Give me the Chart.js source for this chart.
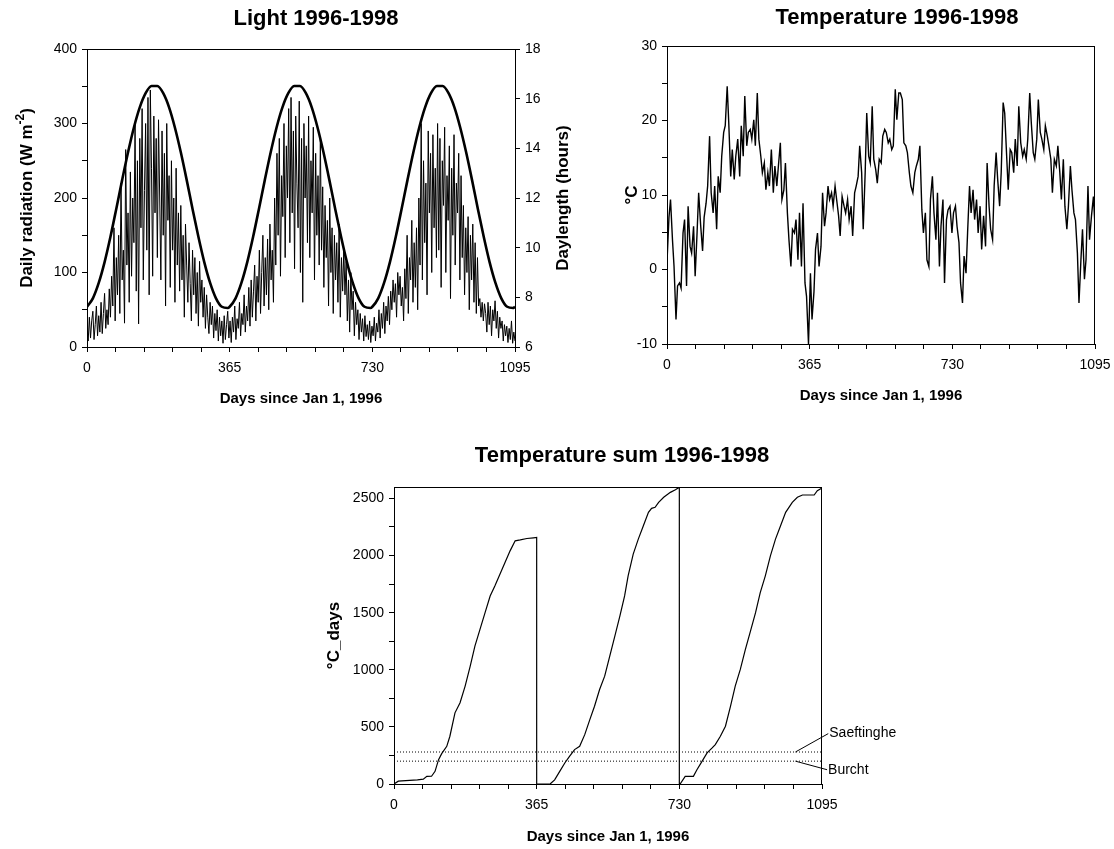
<!DOCTYPE html>
<html>
<head>
<meta charset="utf-8">
<title>Light and temperature 1996-1998</title>
<script src="https://cdn.jsdelivr.net/npm/chart.js@4.4.1/dist/chart.umd.min.js"></script>
<style>
  html, body { margin: 0; background: #fff; overflow: hidden; width: 1114px; height: 849px; }
  canvas { position: absolute; }
  #light { left: 0; top: 0; }
  #temp { left: 560px; top: 0; }
  #tsum { left: 280px; top: 420px; }
</style>
</head>
<body>
<canvas id="light" width="590" height="420"></canvas>
<canvas id="temp" width="560" height="420"></canvas>
<canvas id="tsum" width="680" height="429"></canvas>
<script>
// ---- axis ticks ----
const dayTicks = [0, 73, 146, 219, 292, 365, 438, 511, 584, 657, 730, 803, 876, 949, 1022, 1095];
const dayLabels = [0, 365, 730, 1095];
const radTicks = [0, 50, 100, 150, 200, 250, 300, 350, 400];
const radLabels = [0, 100, 200, 300, 400];
const hourTicks = [6, 8, 10, 12, 14, 16, 18];
const tempTicks = [-10, -5, 0, 5, 10, 15, 20, 25, 30];
const tempLabels = [-10, 0, 10, 20, 30];
const sumTicks = [0, 250, 500, 750, 1000, 1250, 1500, 1750, 2000, 2250, 2500];
const sumLabels = [0, 500, 1000, 1500, 2000, 2500];

// ---- daily radiation (W m-2), read every 3 days ----
const radDays = [
  0, 3, 6, 9, 12, 15, 18, 21, 24, 27, 30, 33, 36, 39, 42, 45, 48, 51, 54, 57,
  60, 63, 66, 69, 72, 75, 78, 81, 84, 87, 90, 93, 96, 99, 102, 105, 108, 111, 114, 117,
  120, 123, 126, 129, 132, 135, 138, 141, 144, 147, 150, 153, 156, 159, 162, 165, 168, 171, 174, 177,
  180, 183, 186, 189, 192, 195, 198, 201, 204, 207, 210, 213, 216, 219, 222, 225, 228, 231, 234, 237,
  240, 243, 246, 249, 252, 255, 258, 261, 264, 267, 270, 273, 276, 279, 282, 285, 288, 291, 294, 297,
  300, 303, 306, 309, 312, 315, 318, 321, 324, 327, 330, 333, 336, 339, 342, 345, 348, 351, 354, 357,
  360, 363, 366, 369, 372, 375, 378, 381, 384, 387, 390, 393, 396, 399, 402, 405, 408, 411, 414, 417,
  420, 423, 426, 429, 432, 435, 438, 441, 444, 447, 450, 453, 456, 459, 462, 465, 468, 471, 474, 477,
  480, 483, 486, 489, 492, 495, 498, 501, 504, 507, 510, 513, 516, 519, 522, 525, 528, 531, 534, 537,
  540, 543, 546, 549, 552, 555, 558, 561, 564, 567, 570, 573, 576, 579, 582, 585, 588, 591, 594, 597,
  600, 603, 606, 609, 612, 615, 618, 621, 624, 627, 630, 633, 636, 639, 642, 645, 648, 651, 654, 657,
  660, 663, 666, 669, 672, 675, 678, 681, 684, 687, 690, 693, 696, 699, 702, 705, 708, 711, 714, 717,
  720, 723, 726, 729, 732, 735, 738, 741, 744, 747, 750, 753, 756, 759, 762, 765, 768, 771, 774, 777,
  780, 783, 786, 789, 792, 795, 798, 801, 804, 807, 810, 813, 816, 819, 822, 825, 828, 831, 834, 837,
  840, 843, 846, 849, 852, 855, 858, 861, 864, 867, 870, 873, 876, 879, 882, 885, 888, 891, 894, 897,
  900, 903, 906, 909, 912, 915, 918, 921, 924, 927, 930, 933, 936, 939, 942, 945, 948, 951, 954, 957,
  960, 963, 966, 969, 972, 975, 978, 981, 984, 987, 990, 993, 996, 999, 1002, 1005, 1008, 1011, 1014, 1017,
  1020, 1023, 1026, 1029, 1032, 1035, 1038, 1041, 1044, 1047, 1050, 1053, 1056, 1059, 1062, 1065, 1068, 1071, 1074, 1077,
  1080, 1083, 1086, 1089, 1092, 1095
];
const radiation = [
  25, 8, 40, 12, 35, 48, 10, 30, 55, 15, 42, 20, 60, 18, 45, 72, 25, 50, 30, 78,
  40, 95, 55, 160, 35, 120, 70, 150, 45, 220, 90, 130, 32, 265, 110, 180, 60, 235, 95, 200,
  140, 300, 75, 250, 31, 280, 160, 320, 90, 210, 300, 130, 335, 70, 345, 240, 95, 310, 180, 280,
  120, 305, 200, 90, 290, 150, 260, 55, 300, 170, 230, 80, 250, 130, 200, 60, 240, 110, 180, 75,
  190, 90, 150, 40, 165, 110, 60, 140, 85, 35, 130, 70, 120, 45, 100, 28, 115, 60, 90, 40,
  80, 25, 70, 40, 18, 60, 30, 55, 12, 45, 22, 50, 8, 40, 15, 35, 5, 42, 10, 30,
  48, 12, 35, 6, 40, 20, 55, 10, 38, 25, 60, 15, 45, 30, 70, 20, 55, 35, 80, 28,
  90, 40, 75, 110, 35, 95, 60, 130, 45, 100, 150, 55, 120, 70, 145, 50, 165, 90, 130, 60,
  200, 110, 260, 150, 280, 95, 230, 175, 300, 120, 270, 200, 320, 140, 335, 180, 290, 105, 310, 220,
  160, 330, 100, 280, 60, 300, 200, 270, 140, 310, 120, 250, 180, 295, 90, 260, 150, 230, 110, 280,
  130, 215, 80, 190, 120, 170, 55, 200, 100, 160, 45, 150, 90, 140, 60, 165, 40, 120, 75, 130,
  70, 115, 35, 90, 20, 100, 50, 75, 15, 60, 30, 50, 10, 45, 20, 38, 8, 42, 14, 30,
  10, 35, 6, 28, 15, 40, 8, 32, 20, 50, 12, 45, 25, 60, 18, 55, 35, 68, 30, 75,
  50, 90, 60, 85, 40, 100, 70, 95, 55, 80, 35, 105, 65, 150, 45, 120, 90, 170, 60, 140,
  80, 160, 50, 200, 110, 300, 90, 250, 140, 220, 70, 290, 180, 260, 100, 285, 160, 240, 120, 300,
  130, 280, 80, 250, 190, 295, 100, 230, 170, 270, 65, 240, 150, 285, 110, 220, 180, 260, 90, 230,
  120, 190, 70, 160, 100, 175, 50, 150, 90, 165, 60, 140, 45, 120, 55, 65, 40, 60, 35, 58,
  45, 20, 60, 30, 55, 15, 50, 35, 62, 25, 48, 12, 40, 25, 35, 8, 30, 15, 28, 6,
  25, 10, 35, 5, 20, 8
];

// ---- daylength (hours) ----
const dayLenDays = [
  0, 15, 30, 45, 60, 75, 90, 105, 120, 135, 150, 165, 180, 195, 210, 225, 240, 255, 270, 285, 300, 315, 330, 345, 360,
  365, 380, 395, 410, 425, 440, 455, 470, 485, 500, 515, 530, 545, 560, 575, 590, 605, 620, 635, 650, 665, 680, 695, 710, 725,
  730, 745, 760, 775, 790, 805, 820, 835, 850, 865, 880, 895, 910, 925, 940, 955, 970, 985, 1000, 1015, 1030, 1045, 1060, 1075, 1090,
  1095
];
const dayLength = [
  7.62, 7.96, 8.58, 9.42, 10.44, 11.57, 12.73, 13.84, 14.84, 15.65, 16.22, 16.51, 16.51, 16.22, 15.65, 14.83, 13.84, 12.73, 11.56, 10.44, 9.42, 8.58, 7.96, 7.62, 7.57,
  7.62, 7.96, 8.58, 9.42, 10.44, 11.57, 12.73, 13.84, 14.84, 15.65, 16.22, 16.51, 16.51, 16.22, 15.65, 14.83, 13.84, 12.73, 11.56, 10.44, 9.42, 8.58, 7.96, 7.62, 7.57,
  7.62, 7.96, 8.58, 9.42, 10.44, 11.57, 12.73, 13.84, 14.84, 15.65, 16.22, 16.51, 16.51, 16.22, 15.65, 14.83, 13.84, 12.73, 11.56, 10.44, 9.42, 8.58, 7.96, 7.62, 7.57,
  7.62
];

// ---- daily temperature (degC) ----
const tempDays = [
  0, 5, 9, 14, 18, 23, 27, 32, 36, 41, 45, 50, 54, 59, 63, 68, 72, 77, 81, 86,
  91, 95, 100, 104, 109, 113, 118, 122, 127, 131, 136, 140, 145, 149, 154, 158, 163, 167, 172, 176,
  181, 186, 190, 195, 199, 204, 208, 213, 217, 222, 226, 231, 235, 240, 244, 249, 253, 258, 262, 267,
  272, 276, 281, 285, 290, 294, 299, 303, 308, 312, 317, 321, 326, 330, 335, 339, 344, 348, 353, 357,
  362, 367, 371, 376, 380, 385, 389, 394, 398, 403, 407, 412, 416, 421, 425, 430, 434, 439, 443, 448,
  453, 457, 462, 466, 471, 475, 480, 484, 489, 493, 498, 502, 507, 511, 516, 520, 525, 529, 534, 538,
  543, 548, 552, 557, 561, 566, 570, 575, 579, 584, 588, 593, 597, 602, 606, 611, 615, 620, 624, 629,
  634, 638, 643, 647, 652, 656, 661, 665, 670, 674, 679, 683, 688, 692, 697, 701, 706, 710, 715, 719,
  724, 729, 733, 738, 742, 747, 751, 756, 760, 765, 769, 774, 778, 783, 787, 792, 796, 801, 805, 810,
  815, 819, 824, 828, 833, 837, 842, 846, 851, 855, 860, 864, 869, 873, 878, 882, 887, 891, 896, 900,
  905, 910, 914, 919, 923, 928, 932, 937, 941, 946, 950, 955, 959, 964, 968, 973, 977, 982, 986, 991,
  996, 1000, 1005, 1009, 1014, 1018, 1023, 1027, 1032, 1036, 1041, 1045, 1050, 1054, 1059, 1063, 1068, 1072, 1077, 1081,
  1086, 1091, 1095
];
const temperature = [
  1.0, 7.0, 9.4, 4.0, 0.4, -6.7, -2.2, -1.8, -2.5, 4.9, 6.7, -2.2, 8.5, 3.1, 2.2, 5.8, -0.9, 5.0, 10.3, 6.0,
  2.5, 7.0, 8.9, 11.2, 17.9, 10.3, 7.6, 11.2, 5.4, 12.5, 10.3, 15.2, 18.4, 19.3, 24.6, 19.7, 12.5, 16.1, 12.1, 15.2,
  17.5, 12.5, 19.3, 15.2, 23.3, 16.6, 18.4, 18.8, 17.5, 20.1, 16.6, 23.7, 17.5, 15.2, 13.0, 14.3, 10.7, 13.0, 11.2, 16.1,
  10.3, 13.9, 11.2, 13.9, 17.0, 9.4, 10.7, 14.3, 7.6, 4.0, 0.4, 5.4, 4.9, 6.7, 1.3, 7.6, 0.4, 8.9, -1.8, -3.6,
  -10.0, -0.5, -6.7, -3.0, 2.7, 4.9, 0.4, 3.1, 10.3, 5.8, 7.6, 11.2, 9.4, 10.3, 8.5, 11.2, 9.4, 7.2, 4.5, 9.8,
  8.5, 7.6, 9.4, 6.7, 8.5, 4.5, 10.3, 11.2, 12.5, 16.6, 13.0, 5.4, 13.0, 21.0, 15.2, 14.3, 21.9, 14.8, 13.4, 11.6,
  14.8, 14.3, 17.9, 18.8, 18.4, 17.0, 17.5, 16.1, 16.6, 24.2, 20.1, 23.7, 23.7, 22.8, 17.0, 16.6, 15.7, 13.0, 11.2, 10.3,
  13.0, 13.9, 14.8, 16.6, 8.0, 4.9, 7.6, 1.3, 0.4, 9.4, 12.5, 7.6, 4.0, 10.3, 0.4, 5.8, 9.4, -1.8, 6.7, 8.0,
  8.5, 4.9, 7.6, 8.5, 5.8, 3.6, -1.8, -4.5, 1.8, -0.5, 4.9, 11.2, 7.6, 10.7, 6.7, 9.4, 4.9, 8.5, 2.7, 7.2,
  3.1, 14.3, 8.5, 5.4, 4.0, 11.2, 15.7, 12.1, 8.5, 13.0, 22.4, 21.0, 15.2, 10.7, 16.1, 15.7, 13.0, 17.5, 13.9, 21.9,
  17.0, 15.2, 16.1, 14.8, 17.5, 23.7, 19.7, 15.7, 14.8, 17.5, 22.8, 18.4, 17.5, 16.1, 19.3, 17.9, 16.6, 14.8, 10.3, 14.8,
  13.9, 16.6, 13.0, 9.4, 14.8, 8.5, 5.4, 8.5, 13.9, 10.7, 7.6, 6.7, 2.2, -4.5, 1.3, 5.4, -1.3, 1.3, 11.2, 4.0,
  7.2, 9.8, 5.8
];

// ---- temperature sum (degC days), reset each Jan 1 ----
const sumDays = [
  0, 11, 20, 40, 60, 75, 84, 96, 105, 114, 122, 135, 143, 156, 169, 182, 195, 207, 220, 233, 246, 258, 271, 284, 297, 310, 323, 340, 357, 365,
  365, 380, 400, 411, 424, 437, 449, 462, 475, 488, 501, 513, 526, 539, 552, 565, 578, 590, 599, 612, 625, 638, 651, 659, 668, 677, 690, 707, 720, 730,
  730, 732, 745, 766, 775, 788, 801, 814, 822, 835, 848, 861, 873, 886, 899, 912, 925, 937, 950, 963, 976, 989, 1002, 1019, 1032, 1045, 1075, 1083, 1095
];
const tempSum = [
  0, 25, 28, 32, 36, 42, 67, 68, 111, 213, 266, 330, 418, 623, 711, 857, 1032, 1207, 1353, 1500, 1646, 1734, 1836, 1939, 2041, 2129, 2137, 2149, 2155, 2158,
  0, 0, 2, 36, 111, 184, 242, 301, 330, 432, 564, 681, 827, 944, 1120, 1295, 1471, 1646, 1822, 2012, 2144, 2261, 2378, 2413, 2422, 2466, 2510, 2553, 2576, 2598,
  0, 0, 67, 67, 125, 198, 272, 316, 345, 418, 506, 681, 857, 1003, 1178, 1339, 1500, 1675, 1822, 1997, 2144, 2261, 2378, 2466, 2510, 2530, 2530, 2568, 2590
];

// thresholds for the two sites
const thresholdDays = [0, 1095];
const saeftinghe = [280, 280];
const burcht = [200, 200];

const FONT = '"Liberation Sans", Arial, Helvetica, sans-serif';
Chart.defaults.font.family = FONT;
Chart.defaults.color = '#000';
Chart.defaults.animation = false;
Chart.defaults.plugins.legend.display = false;
Chart.defaults.plugins.tooltip.enabled = false;
Chart.defaults.elements.point.radius = 0;

function pairs(xs, ys) {
  return xs.map((x, i) => ({ x: x, y: ys[i] }));
}

function axis(ticks, labels, extra) {
  const a = {
    type: 'linear',
    min: ticks[0],
    max: ticks[ticks.length - 1],
    afterBuildTicks: s => { s.ticks = ticks.map(v => ({ value: v })); },
    ticks: {
      autoSkip: false,
      maxRotation: 0,
      color: '#000',
      font: { size: 14 },
      padding: 5,
      callback: v => (labels.includes(v) ? String(v) : '')
    },
    grid: { display: true, drawOnChartArea: false, drawTicks: true, tickLength: 5, color: '#000', tickColor: '#000' },
    border: { display: true, color: '#000', width: 1 },
    title: { display: false }
  };
  return Object.assign(a, extra);
}

function dayAxis(height, titleBottom) {
  const a = axis(dayTicks, dayLabels, {
    title: {
      display: true, text: 'Days since Jan 1, 1996', color: '#000',
      font: { size: 15, weight: 'bold' }, padding: { top: 0, bottom: titleBottom }
    },
    afterFit: s => { s.height = height; }
  });
  a.ticks.padding = 8;
  return a;
}

function sideTitle(ctx, parts, cx, cy, size) {
  ctx.save();
  ctx.translate(cx, cy);
  ctx.rotate(-Math.PI / 2);
  ctx.fillStyle = '#000';
  ctx.textBaseline = 'middle';
  ctx.textAlign = 'left';
  const big = 'bold ' + size + 'px ' + FONT;
  const small = 'bold ' + Math.round(size * 0.7) + 'px ' + FONT;
  const widths = parts.map(p => { ctx.font = p.sup ? small : big; return ctx.measureText(p.text).width; });
  let x = -widths.reduce((s, w) => s + w, 0) / 2;
  parts.forEach((p, i) => {
    ctx.font = p.sup ? small : big;
    ctx.fillText(p.text, x, p.sup ? -size * 0.38 : 0);
    x += widths[i];
  });
  ctx.restore();
}

// title, frame, rotated axis titles and notes for one panel
function decor(cfg) {
  return {
    id: 'decor',
    afterDraw(chart) {
      const ctx = chart.ctx;
      const a = chart.chartArea;
      ctx.save();
      ctx.strokeStyle = '#000';
      ctx.lineWidth = 1;
      ctx.beginPath();
      const top = Math.round(a.top) + 0.5;
      const right = Math.round(a.right) - 0.5;
      ctx.moveTo(Math.round(a.left), top);
      ctx.lineTo(Math.round(a.right), top);
      if (cfg.rightFrame) {
        ctx.moveTo(right, top);
        ctx.lineTo(right, Math.round(a.bottom));
      }
      ctx.stroke();

      ctx.fillStyle = '#000';
      ctx.font = 'bold 22px ' + FONT;
      ctx.textAlign = 'center';
      ctx.textBaseline = 'alphabetic';
      ctx.fillText(cfg.title, (a.left + a.right) / 2 + cfg.titleShift, cfg.titleBaseline);

      (cfg.side || []).forEach(t => sideTitle(ctx, t.parts, t.x, (a.top + a.bottom) / 2 + (t.dy || 0), t.size));

      const xs = chart.scales.x;
      const ys = chart.scales.y;
      (cfg.notes || []).forEach(n => {
        ctx.beginPath();
        ctx.moveTo(xs.getPixelForValue(n.from[0]), ys.getPixelForValue(n.from[1]));
        ctx.lineTo(xs.getPixelForValue(n.to[0]), ys.getPixelForValue(n.to[1]));
        ctx.stroke();
        ctx.font = '14px ' + FONT;
        ctx.textAlign = 'left';
        ctx.textBaseline = 'middle';
        ctx.fillText(n.text, xs.getPixelForValue(n.to[0]) + 1, ys.getPixelForValue(n.to[1]));
      });
      ctx.restore();
    }
  };
}

// ---- Light ----
new Chart(document.getElementById('light'), {
  type: 'line',
  data: {
    datasets: [
      { data: pairs(radDays, radiation), borderColor: '#000', borderWidth: 1, yAxisID: 'y' },
      { data: pairs(dayLenDays, dayLength), borderColor: '#000', borderWidth: 2.6, yAxisID: 'y2', cubicInterpolationMode: 'monotone' }
    ]
  },
  options: {
    responsive: false,
    devicePixelRatio: 1,
    layout: { padding: { top: 49, left: 0, right: 0, bottom: 0 } },
    scales: {
      x: dayAxis(73, 12),
      y: axis(radTicks, radLabels, { position: 'left', afterFit: s => { s.width = 87; } }),
      y2: axis(hourTicks, hourTicks, { position: 'right', afterFit: s => { s.width = 75; } })
    }
  },
  plugins: [decor({
    title: 'Light 1996-1998', titleShift: 15, titleBaseline: 25, rightFrame: false,
    side: [
      { parts: [{ text: 'Daily radiation (W m' }, { text: '-2', sup: true }, { text: ')' }], x: 27, size: 17 },
      { parts: [{ text: 'Daylength (hours)' }], x: 563, size: 17 }
    ]
  })]
});

// ---- Temperature ----
new Chart(document.getElementById('temp'), {
  type: 'line',
  data: {
    datasets: [
      { data: pairs(tempDays, temperature), borderColor: '#000', borderWidth: 1.4 }
    ]
  },
  options: {
    responsive: false,
    devicePixelRatio: 1,
    layout: { padding: { top: 46, left: 0, right: 25, bottom: 0 } },
    scales: {
      x: dayAxis(76, 15),
      y: axis(tempTicks, tempLabels, { position: 'left', afterFit: s => { s.width = 107; } })
    }
  },
  plugins: [decor({
    title: 'Temperature 1996-1998', titleShift: 16, titleBaseline: 24, rightFrame: true,
    side: [{ parts: [{ text: '°C' }], x: 72, size: 17 }]
  })]
});

// ---- Temperature sum ----
new Chart(document.getElementById('tsum'), {
  type: 'line',
  data: {
    datasets: [
      { data: pairs(sumDays, tempSum), borderColor: '#000', borderWidth: 1.2 },
      { data: pairs(thresholdDays, saeftinghe), borderColor: '#000', borderWidth: 1, borderDash: [1, 2] },
      { data: pairs(thresholdDays, burcht), borderColor: '#000', borderWidth: 1, borderDash: [1, 2] }
    ]
  },
  options: {
    responsive: false,
    devicePixelRatio: 1,
    layout: { padding: { top: 67, left: 0, right: 138, bottom: 0 } },
    scales: {
      x: dayAxis(65, 3),
      y: Object.assign(axis(sumTicks, sumLabels, { position: 'left', afterFit: s => { s.width = 114; } }), { max: 2600 })
    }
  },
  plugins: [decor({
    title: 'Temperature sum 1996-1998', titleShift: 14, titleBaseline: 42, rightFrame: true,
    side: [{ parts: [{ text: '°C_days' }], x: 54, size: 17 }],
    notes: [
      { text: 'Saeftinghe', from: [1027, 280], to: [1111, 441] },
      { text: 'Burcht', from: [1027, 200], to: [1108, 125] }
    ]
  })]
});
</script>
</body>
</html>
